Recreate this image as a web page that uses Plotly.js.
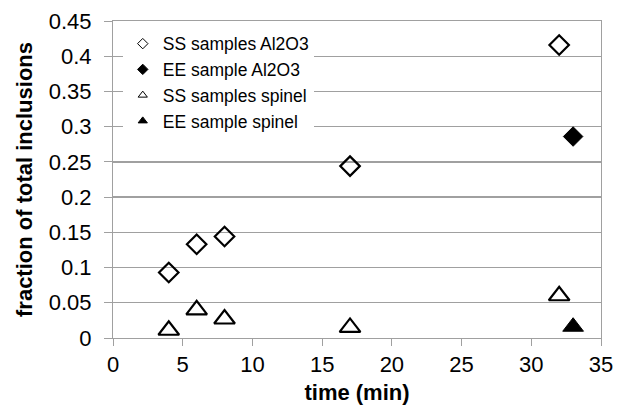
<!DOCTYPE html>
<html>
<head>
<meta charset="utf-8">
<script src="https://cdn.plot.ly/plotly-3.0.1.min.js"></script>
<style>html,body{margin:0;padding:0;background:#fff;}#chart{width:630px;height:407px;}</style>
</head>
<body>
<div id="chart"></div>
<script>
// Data
const ssTime = [4, 6, 8, 17, 32];
const ssAl2O3 = [0.093, 0.133, 0.144, 0.244, 0.416];
const ssSpinel = [0.011, 0.040, 0.027, 0.015, 0.060];
const eeTime = [33];
const eeAl2O3 = [0.286];
const eeSpinel = [0.016];
const seriesNames = ["SS samples Al2O3", "EE sample Al2O3", "SS samples spinel", "EE sample spinel"];
const xTicks = [0, 5, 10, 15, 20, 25, 30, 35];
const yTicks = [0, 0.05, 0.1, 0.15, 0.2, 0.25, 0.3, 0.35, 0.4, 0.45];

const openDiamond = {symbol: "diamond-open", size: 15, color: "#000", line: {width: 2.2, color: "#000"}};
const fullDiamond = {symbol: "diamond", size: 15, color: "#000", line: {width: 1, color: "#000"}};
const openTri = {symbol: "triangle-up-open", size: 18, color: "#000", line: {width: 2.2, color: "#000"}};
const fullTri = {symbol: "triangle-up", size: 18, color: "#000", line: {width: 1, color: "#000"}};

function dataTrace(x, y, marker) {
  return {x: x, y: y, type: "scatter", mode: "markers", marker: marker, showlegend: false, hoverinfo: "x+y", cliponaxis: false};
}
function legendTrace(name, marker) {
  return {x: [null], y: [null], type: "scatter", mode: "markers", name: name,
    marker: Object.assign({}, marker, {size: 8, line: {width: 1, color: "#000"}})};
}

const traces = [
  dataTrace(ssTime, ssAl2O3, openDiamond),
  dataTrace(eeTime, eeAl2O3, fullDiamond),
  dataTrace(ssTime, ssSpinel, openTri),
  dataTrace(eeTime, eeSpinel, fullTri),
  legendTrace(seriesNames[0], openDiamond),
  legendTrace(seriesNames[1], fullDiamond),
  legendTrace(seriesNames[2], openTri),
  legendTrace(seriesNames[3], fullTri)
];

const gridColor = "#a0a0a0";
const layout = {
  width: 630, height: 407,
  margin: {l: 113, r: 29, t: 21, b: 69, pad: 0},
  paper_bgcolor: "#fff", plot_bgcolor: "#fff",
  font: {family: "Liberation Sans, Arial, sans-serif", color: "#000", size: 20},
  showlegend: true,
  legend: {
    x: 0.02, y: 0.985, xanchor: "left", yanchor: "top",
    bgcolor: "#fff", borderwidth: 0,
    font: {family: "Liberation Sans, Arial, sans-serif", size: 17.5, color: "#000"},
    tracegroupgap: 0, itemwidth: 30
  },
  xaxis: {
    range: [0, 35], tickvals: xTicks, ticktext: xTicks.map(String),
    showgrid: false, zeroline: false,
    showline: true, linecolor: gridColor, linewidth: 1, mirror: true,
    ticks: "outside", ticklen: 7, tickcolor: gridColor, tickwidth: 1,
    tickfont: {size: 22},
    title: {text: "<b>time (min)</b>", font: {size: 22}, standoff: 8}
  },
  yaxis: {
    range: [0, 0.45], tickvals: yTicks, ticktext: yTicks.map(v => String(v)),
    showgrid: true, gridcolor: gridColor, gridwidth: 1.3, zeroline: false,
    showline: true, linecolor: gridColor, linewidth: 1, mirror: true,
    ticks: "outside", ticklen: 8, tickcolor: gridColor, tickwidth: 1,
    ticklabelstandoff: 8,
    tickfont: {size: 22},
    title: {text: "<b>fraction of total inclusions</b>", font: {size: 22}, standoff: 10}
  }
};

Plotly.newPlot("chart", traces, layout, {displayModeBar: false, staticPlot: true});
</script>
</body>
</html>
